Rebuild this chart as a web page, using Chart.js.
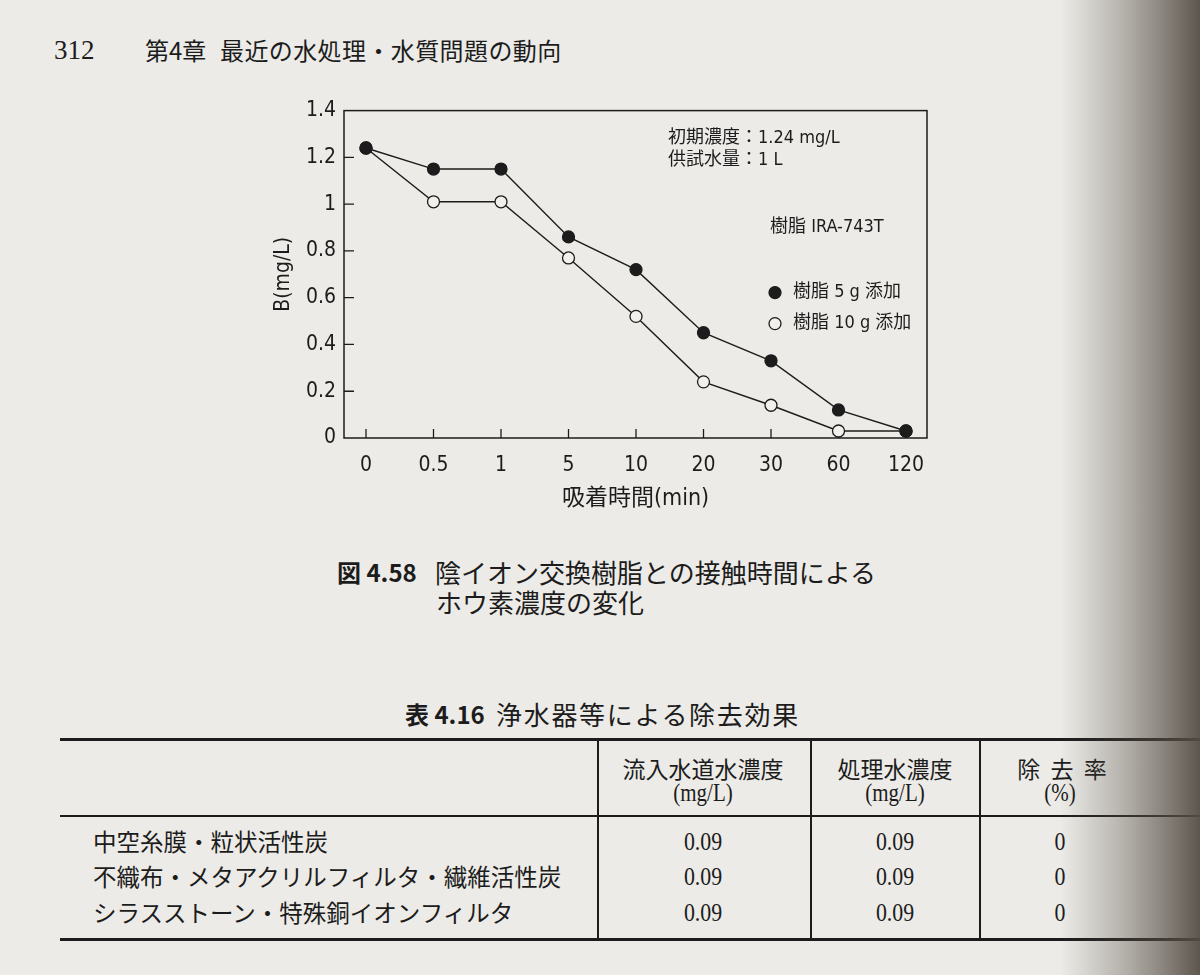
<!DOCTYPE html>
<html><head><meta charset="utf-8">
<script src="https://cdn.jsdelivr.net/npm/chart.js@4.4.1/dist/chart.umd.min.js"></script>
<style>
html,body{margin:0;padding:0;}
body{width:1200px;height:975px;position:relative;overflow:hidden;background:#ecebe7;color:#1c1c1c;font-family:"Noto Sans CJK JP",sans-serif;}
.t{position:absolute;white-space:nowrap;line-height:1;transform:translateY(-50%);}
.c{transform:translate(-50%,-50%);}
.n{transform:translate(-50%,-50%) scaleX(0.84);}
.serif{font-family:"Liberation Serif","Noto Sans CJK JP",serif;}
.hl{position:absolute;background:#1c1c1c;}
#chartBox{position:absolute;left:230px;top:90px;width:720px;height:440px;}
#shadow{position:absolute;left:1060px;top:0;width:140px;height:975px;z-index:10;
background:linear-gradient(to right,rgba(85,77,68,0) 0%,rgba(85,77,68,0.1) 14%,rgba(85,77,68,0.34) 43%,rgba(85,77,68,0.62) 71%,rgba(85,77,68,0.94) 100%);}
</style></head>
<body>
<div class="t serif" style="left:54px;top:50px;font-size:27px;">312</div>
<div class="t" style="left:145px;top:50px;font-size:24px;">第4章</div>
<div class="t" style="left:220px;top:50px;font-size:24px;letter-spacing:0.4px;">最近の水処理・水質問題の動向</div>

<div id="chartBox"><canvas id="c" width="720" height="440"></canvas></div>

<div class="t" style="left:337px;top:572px;font-size:24px;font-weight:bold;">図 4.58</div>
<div class="t" style="left:435px;top:572px;font-size:26px;">陰イオン交換樹脂との接触時間による</div>
<div class="t" style="left:436px;top:602px;font-size:26px;">ホウ素濃度の変化</div>

<div class="t" style="left:405px;top:714px;font-size:24px;font-weight:bold;">表 4.16</div>
<div class="t" style="left:496px;top:714px;font-size:26px;letter-spacing:1.7px;">浄水器等による除去効果</div>

<div class="hl" style="left:60px;top:738px;width:1140px;height:3px;"></div>
<div class="hl" style="left:60px;top:815px;width:1140px;height:1.5px;"></div>
<div class="hl" style="left:60px;top:938px;width:1140px;height:2.5px;"></div>
<div class="hl" style="left:597px;top:740px;width:1.5px;height:199px;"></div>
<div class="hl" style="left:810px;top:740px;width:1.5px;height:199px;"></div>
<div class="hl" style="left:979px;top:740px;width:1.5px;height:199px;"></div>

<div class="t c" style="left:703px;top:768px;font-size:23px;">流入水道水濃度</div>
<div class="t n serif" style="left:703px;top:792px;font-size:25px;">(mg/L)</div>
<div class="t c" style="left:895px;top:768px;font-size:23px;">処理水濃度</div>
<div class="t n serif" style="left:895px;top:792px;font-size:25px;">(mg/L)</div>
<div class="t c" style="left:1062px;top:768px;font-size:23px;letter-spacing:0.45em;padding-left:0.45em;">除去率</div>
<div class="t n serif" style="left:1060px;top:792px;font-size:25px;">(%)</div>

<div id="rows"></div>
<div id="shadow"></div>

<script>
// ---- data ----
const timeLabels = ['0', '0.5', '1', '5', '10', '20', '30', '60', '120'];
const resin5g  = [1.24, 1.15, 1.15, 0.86, 0.72, 0.45, 0.33, 0.12, 0.03];
const resin10g = [1.24, 1.01, 1.01, 0.77, 0.52, 0.24, 0.14, 0.03, 0.03];
const yTicks = [0, 0.2, 0.4, 0.6, 0.8, 1, 1.2, 1.4];
const seriesNames = ['樹脂 5 g 添加', '樹脂 10 g 添加'];
const noteLines = ['初期濃度：1.24 mg/L', '供試水量：1 L'];
const resinName = '樹脂 IRA-743T';
const xTitle = '吸着時間(min)';
const yTitle = 'B(mg/L)';

const tableRows = ['中空糸膜・粒状活性炭', '不織布・メタアクリルフィルタ・繊維活性炭', 'シラスストーン・特殊銅イオンフィルタ'];
const inflowConc = ['0.09', '0.09', '0.09'];
const treatedConc = ['0.09', '0.09', '0.09'];
const removalRate = ['0', '0', '0'];

// ---- table rows ----
const rowY = [842, 877, 913];
const rowsEl = document.getElementById('rows');
tableRows.forEach((name, i) => {
  rowsEl.insertAdjacentHTML('beforeend',
    `<div class="t" style="left:93px;top:${rowY[i]}px;font-size:23.5px;">${name}</div>` +
    `<div class="t n serif" style="left:703px;top:${rowY[i]}px;font-size:26px;">${inflowConc[i]}</div>` +
    `<div class="t n serif" style="left:895px;top:${rowY[i]}px;font-size:26px;">${treatedConc[i]}</div>` +
    `<div class="t n serif" style="left:1060px;top:${rowY[i]}px;font-size:26px;">${removalRate[i]}</div>`);
});

// ---- chart ----
const INK = '#1c1c1c';
const PAPER = '#f1f0ec';
const chartFont = '"DejaVu Sans Condensed", "Liberation Sans Narrow", "Noto Sans CJK JP", sans-serif';

const framePlugin = {
  id: 'frame',
  beforeDatasetsDraw(chart) {
    const {ctx, chartArea: a, scales: {x, y}} = chart;
    ctx.save();
    ctx.strokeStyle = INK;
    ctx.lineWidth = 1.5;
    ctx.strokeRect(a.left, a.top, a.right - a.left, a.bottom - a.top);
    ctx.lineWidth = 1.3;
    ctx.beginPath();
    timeLabels.forEach((_, i) => {
      const px = x.getPixelForValue(i);
      ctx.moveTo(px, a.bottom); ctx.lineTo(px, a.bottom - 9);
    });
    yTicks.forEach(v => {
      if (v === 0 || v === 1.4) return;
      const py = y.getPixelForValue(v);
      ctx.moveTo(a.left, py); ctx.lineTo(a.left + 10, py);
    });
    ctx.stroke();
    ctx.restore();
  },
  afterDraw(chart) {
    const {ctx, chartArea: a} = chart;
    ctx.save();
    ctx.fillStyle = INK;
    ctx.textAlign = 'left';
    ctx.textBaseline = 'middle';
    ctx.font = '18px ' + chartFont;
    ctx.fillText(noteLines[0], a.left + 324, a.top + 28);
    ctx.fillText(noteLines[1], a.left + 324, a.top + 50);
    ctx.fillText(resinName, a.left + 426, a.top + 117);
    const ds = chart.data.datasets;
    const ly = [a.top + 182, a.top + 213];
    ds.forEach((d, i) => {
      ctx.beginPath();
      ctx.arc(a.left + 431, ly[i], 6, 0, Math.PI * 2);
      ctx.fillStyle = d.pointBackgroundColor;
      ctx.fill();
      ctx.lineWidth = 1.3;
      ctx.strokeStyle = INK;
      ctx.stroke();
      ctx.fillStyle = INK;
      ctx.fillText(d.label, a.left + 449, ly[i]);
    });
    ctx.restore();
  }
};

new Chart(document.getElementById('c'), {
  type: 'line',
  data: {
    datasets: [
      {
        label: seriesNames[0],
        data: resin5g.map((v, i) => ({x: i, y: v})),
        borderColor: INK, borderWidth: 1.4,
        pointRadius: 6, pointBorderWidth: 1.3,
        pointBackgroundColor: INK, pointBorderColor: INK,
        tension: 0, clip: false
      },
      {
        label: seriesNames[1],
        data: resin10g.map((v, i) => ({x: i, y: v})),
        borderColor: INK, borderWidth: 1.4,
        pointRadius: 6, pointBorderWidth: 1.3,
        pointBackgroundColor: PAPER, pointBorderColor: INK,
        tension: 0, clip: false
      }
    ]
  },
  options: {
    responsive: false,
    animation: false,
    devicePixelRatio: 1,
    layout: {padding: {top: 15, right: 23, left: 0, bottom: 0}},
    plugins: {legend: {display: false}, tooltip: {enabled: false}},
    scales: {
      x: {
        type: 'linear', min: -0.326, max: 8.311,
        afterBuildTicks: s => { s.ticks = timeLabels.map((_, i) => ({value: i})); },
        afterFit: s => { s.height = 92; },
        grid: {display: false, drawTicks: false}, border: {display: false},
        ticks: {
          callback: v => timeLabels[v],
          color: INK, padding: 15, maxRotation: 0, autoSkip: false,
          font: {family: chartFont, size: 21}
        },
        title: {display: true, text: xTitle, color: INK,
          font: {family: chartFont, size: 23}, padding: {top: 0, bottom: 17}}
      },
      y: {
        type: 'linear', min: 0, max: 1.4,
        afterBuildTicks: s => { s.ticks = yTicks.map(v => ({value: v})); },
        afterFit: s => { s.width = 114; },
        grid: {display: false, drawTicks: false}, border: {display: false},
        ticks: {
          callback: v => String(v),
          color: INK, padding: 8,
          font: {family: chartFont, size: 21}
        },
        title: {display: true, text: yTitle, color: INK,
          font: {family: chartFont, size: 21}, padding: {top: 41, bottom: 0}}
      }
    }
  },
  plugins: [framePlugin]
});
</script>
</body></html>
